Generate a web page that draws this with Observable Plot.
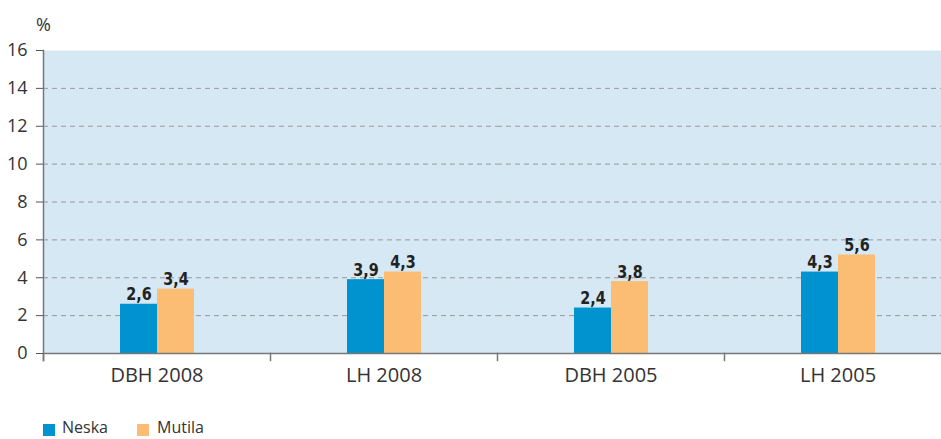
<!DOCTYPE html>
<html><head><meta charset="utf-8">
<script src="https://cdn.jsdelivr.net/npm/d3@7"></script>
<script src="https://cdn.jsdelivr.net/npm/@observablehq/plot@0.6"></script>
<style>
html,body{margin:0;background:#fff;font-family:"Open Sans",sans-serif;overflow:hidden;width:941px;}
#chart{width:941px;height:400px;overflow:hidden;}
#legend{position:relative;height:39px;width:941px;}
.sw{position:absolute;top:24px;width:12px;height:12px;}
.lt{position:absolute;top:19px;font-size:16px;line-height:17px;color:#333;}
</style></head><body><div id="chart"></div><div id="legend"></div>
<script>
const categories = ["DBH 2008", "LH 2008", "DBH 2005", "LH 2005"];
const series = ["Neska", "Mutila"];
const neska = [2.6, 3.9, 2.4, 4.3];
const mutila = [3.4, 4.3, 3.8, 5.2];
const neskaLabels = ["2,6", "3,9", "2,4", "4,3"];
const mutilaLabels = ["3,4", "4,3", "3,8", "5,6"];
const yTicks = [0, 2, 4, 6, 8, 10, 12, 14, 16];
const colors = ["#0093d0", "#fbbd74"];

const data = categories.flatMap((c, i) => [
  {cat: c, s: series[0], v: neska[i], label: neskaLabels[i]},
  {cat: c, s: series[1], v: mutila[i], label: mutilaLabels[i]}
]);

const W = 951, H = 400, mt = 50, mb = 47, ml = 43, mr = 0;
const chart = Plot.plot({
  width: W, height: H, marginTop: mt, marginBottom: mb, marginLeft: ml, marginRight: mr,
  style: {fontFamily: "Open Sans", fontSize: "18px", color: "#333", background: "transparent", overflow: "visible", maxWidth: "none"},
  fx: {domain: categories, padding: 0, label: null},
  x: {domain: series, paddingInner: 0, paddingOuter: 2.03, axis: null},
  y: {domain: [0, 16], ticks: yTicks},
  color: {domain: series, range: colors},
  marks: [
    Plot.frame({fill: "#d5e8f4", stroke: null, facet: "super"}),
    Plot.ruleY(yTicks.filter(t => t > 0 && t < 16), {stroke: "#999", strokeDasharray: "5,4"}),
    Plot.barY(data, {fx: "cat", x: "s", y: "v", fill: "s"}),
    Plot.text(data, {fx: "cat", x: "s", y: "v", text: "label", lineAnchor: "bottom", dy: -4,
      fontWeight: "bold", fontFamily: "'DejaVu Sans', sans-serif", fontSize: 18, fill: "#222"}),
    Plot.ruleY([0], {stroke: "#777", strokeWidth: 1.5}),
    Plot.frame({anchor: "left", stroke: "#777", strokeWidth: 1.5, insetTop: H - mt - mb, insetBottom: -7}),
    Plot.frame({anchor: "left", stroke: "#777", strokeWidth: 1.5, insetBottom: -7, facet: "super"}),
    Plot.axisY({ticks: yTicks, tickSize: 7, tickPadding: 9, label: null, fontSize: 18, stroke: "#555"}),
    Plot.axisFx({anchor: "bottom", tickSize: 0, tickPadding: 14, label: null, fontSize: 20}),
    Plot.text(["%"], {frameAnchor: "top-left", textAnchor: "middle", dy: -32, fontSize: 18, fill: "#333", facet: "super"})
  ]
});
chart.style.maxWidth = "none";
d3.select(chart).selectAll('g[font-weight="bold"] text').each(function() {
  const t = this.getAttribute("transform") || "";
  this.setAttribute("transform", t + " scale(0.8,1)");
});
document.getElementById("chart").appendChild(chart);

const legend = document.getElementById("legend");
const swLefts = [43, 137];
const txtLefts = [62, 157];
series.forEach((s, i) => {
  const sw = document.createElement("div");
  sw.className = "sw";
  sw.style.left = swLefts[i] + "px";
  sw.style.background = colors[i];
  legend.appendChild(sw);
  const t = document.createElement("div");
  t.className = "lt";
  t.style.left = txtLefts[i] + "px";
  t.textContent = s;
  legend.appendChild(t);
});
</script>
</body></html>
